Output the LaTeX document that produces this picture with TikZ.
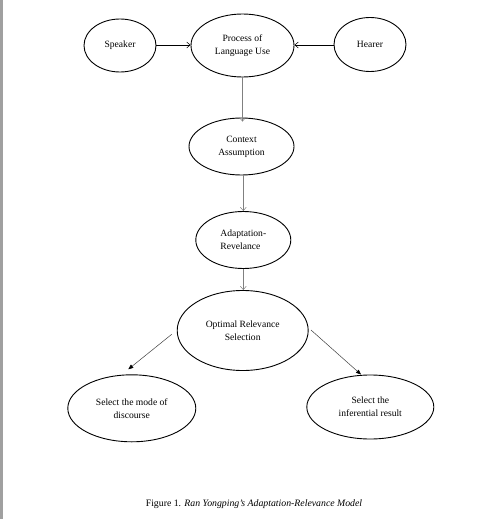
\documentclass[tikz,border=0pt]{standalone}
\usepackage{fontspec}
\setmainfont{Liberation Serif}
\usetikzlibrary{shapes.geometric,arrows.meta}
\definecolor{barcol}{HTML}{A0A0A0}
\definecolor{linegrey}{HTML}{808080}
\begin{document}
\begin{tikzpicture}[x=1pt,y=-1pt,
  el/.style={ellipse,draw=black,line width=0.9pt,inner sep=0pt,align=center,
    font=\fontsize{9.6}{12.8}\selectfont},
  openarrow/.style={line width=0.6pt,-{Straight Barb[length=3.5pt,width=6pt,line width=0.5pt]}},
  fillarrow/.style={line width=0.5pt,draw=black!75,-{Triangle[length=5pt,width=4pt,black]}}
]
\useasboundingbox (0,0) rectangle (491,519);
\fill[white] (0,0) rectangle (491,519);
\fill[barcol] (0,0) rectangle (2.7,519);

\node[el,minimum width=72pt,minimum height=53pt] (sp) at (120,45.5) {Speaker};
\node[el,minimum width=103pt,minimum height=63pt] (pr) at (242.5,45.5) {Process of\\Language Use};
\node[el,minimum width=72pt,minimum height=54pt] (he) at (370,44.5) {Hearer};
\node[el,minimum width=105pt,minimum height=57pt] (ctx) at (241.5,146.5) {Context\\Assumption};
\node[el,minimum width=95pt,minimum height=57pt,align=left] (ad) at (243.3,240) {Adaptation-\\Revelance};
\node[el,minimum width=131pt,minimum height=80pt] (op) at (242.7,330.5) {Optimal Relevance\\Selection};
\node[el,minimum width=128pt,minimum height=67pt] (s1) at (131.8,408.3) {Select the mode of\\discourse};
\node[el,minimum width=127pt,minimum height=64pt] (s2) at (370.3,407) {Select the\\inferential result};

\node[font=\fontsize{9.8}{12}\selectfont] (cap) at (254,504.5) {Figure 1. \textit{Ran Yongping's Adaptation-Relevance Model}};

\draw[openarrow,draw=black] (sp.east |- 0,45) -- (pr.west |- 0,45);
\draw[openarrow,draw=black] (he.west |- 0,45) -- (pr.east |- 0,45);
\draw[openarrow,draw=linegrey] (pr.south) -- ([yshift=-4pt]pr.south |- ctx.north);
\draw[openarrow,draw=linegrey] (ctx.south -| ad.north) -- (ad.north);
\draw[openarrow,draw=linegrey] (ad.south) -- (ad.south |- op.north);

\coordinate (l0) at (171.7,334.3);
\coordinate (l1) at (128.3,369.3);
\coordinate (r0) at (311,330);
\coordinate (r1) at (361,374.5);
\draw[fillarrow] (l0) -- (l1);
\draw[fillarrow] (r0) -- (r1);
\end{tikzpicture}
\end{document}
